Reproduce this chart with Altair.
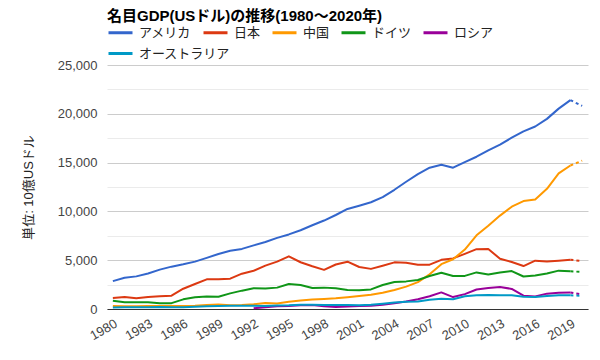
import altair as alt
import pandas as pd

years = list(range(1980, 2021))
countries = ["アメリカ", "日本", "中国", "ドイツ", "ロシア", "オーストラリア"]
colors = ["#3366cc", "#dc3912", "#ff9900", "#109618", "#990099", "#0099c6"]

usa = [2857, 3207, 3343, 3634, 4037, 4339, 4580, 4855, 5236, 5642, 5963, 6158, 6520, 6859,
       7287, 7640, 8073, 8578, 9063, 9631, 10252, 10582, 10936, 11458, 12214, 13037, 13815,
       14475, 14770, 14478, 15049, 15600, 16254, 16843, 17551, 18206, 18695, 19480, 20530,
       21400, 20810]
japan = [1130, 1230, 1100, 1230, 1300, 1370, 2080, 2560, 3040, 3040, 3110, 3620, 3920, 4440,
         4850, 5400, 4790, 4380, 4010, 4560, 4850, 4300, 4110, 4440, 4780, 4750, 4540, 4540,
         5040, 5180, 5650, 6130, 6150, 5150, 4810, 4400, 4950, 4870, 4950, 5050, 4910]
china = [300, 290, 285, 305, 315, 310, 300, 325, 405, 455, 395, 415, 495, 620, 565, 735, 865,
         965, 1030, 1095, 1210, 1340, 1470, 1660, 1955, 2290, 2750, 3550, 4590, 5100, 6090,
         7550, 8530, 9570, 10480, 11060, 11230, 12310, 13890, 14700, 15200]
germany = [850, 700, 690, 690, 600, 600, 990, 1200, 1270, 1250, 1600, 1880, 2120, 2090, 2190,
           2560, 2460, 2160, 2190, 2120, 1950, 1920, 2010, 2460, 2770, 2830, 2970, 3380, 3720,
           3390, 3390, 3750, 3540, 3750, 3890, 3330, 3440, 3640, 3930, 3860, 3800]
russia = [None] * 12 + [85, 184, 277, 313, 392, 405, 271, 196, 260, 307, 345, 430, 591, 764,
                        990, 1300, 1700, 1223, 1525, 2000, 2150, 2250, 2059, 1363, 1277, 1574,
                        1657, 1700, 1470]
australia = [165, 190, 185, 180, 196, 172, 183, 222, 287, 311, 323, 326, 325, 311, 366, 377,
             425, 432, 398, 415, 400, 379, 424, 541, 656, 731, 778, 947, 1055, 1001, 1300,
             1420, 1440, 1420, 1400, 1250, 1230, 1330, 1420, 1400, 1360]

x_ticks = list(range(1980, 2020, 3))
y_ticks = list(range(0, 25001, 2500))

series = [usa, japan, china, germany, russia, australia]
rows = []
for name, vals in zip(countries, series):
    for y, v in zip(years, vals):
        if v is not None:
            rows.append({"year": y, "gdp": v, "country": name})
df = pd.DataFrame(rows)
solid_df = df[df["year"] <= 2019]
dot_df = df[df["year"] >= 2019]

FONT = "Liberation Sans, Noto Sans CJK JP, sans-serif"

x_enc = alt.X(
    "year:Q",
    scale=alt.Scale(domain=[1979.5, 2020.5], nice=False, zero=False),
    axis=alt.Axis(
        values=x_ticks, format="d", labelAngle=-30, labelAlign="right",
        labelBaseline="top", ticks=False, grid=False, domainColor="#333333",
        domainWidth=1, labelPadding=8, labelFontSize=13, labelColor="#444444",
        labelFlush=False, labelOverlap=False, title=None,
    ),
)
y_enc = alt.Y(
    "gdp:Q",
    scale=alt.Scale(domain=[0, 25000], nice=False),
    axis=alt.Axis(
        values=y_ticks, format=",d",
        labelExpr="datum.value % 5000 === 0 ? datum.label : ''",
        gridColor={"condition": {"test": "datum.value % 5000 === 0", "value": "#cccccc"},
                   "value": "#ebebeb"},
        domain=False, ticks=False, labelPadding=10, labelFontSize=13,
        labelColor="#444444", title="単位: 10億USドル", titleX=-79, titleY=122,
        titleAngle=-90, titleAlign="center", titleBaseline="middle",
        titleFontSize=13, titleFontWeight="normal", titleColor="#222222",
    ),
)
color_scale = alt.Scale(domain=countries, range=colors)


def make_legend(values, legend_y):
    return alt.Legend(
        orient="none", legendX=0, legendY=legend_y, direction="horizontal",
        values=values, symbolType="stroke", symbolSize=576, symbolStrokeWidth=3,
        labelFontSize=13, labelColor="#222222", columnPadding=5,
        labelOffset=5, title=None, labelFont=FONT,
    )


solid = alt.Chart(solid_df).mark_line(strokeWidth=2, strokeJoin="round").encode(
    x=x_enc, y=y_enc,
    color=alt.Color("country:N", scale=color_scale, sort=countries,
                    legend=make_legend(countries[:5], -46)),
)
dotted = alt.Chart(dot_df).mark_line(strokeWidth=2, strokeDash=[3, 3]).encode(
    x=x_enc, y=y_enc,
    color=alt.Color("country:N", scale=color_scale, sort=countries,
                    legend=make_legend(countries[5:], -25)),
)

chart = alt.layer(solid, dotted).resolve_scale(color="independent").properties(
    width=481, height=244,
    autosize=alt.AutoSizeParams(type="none"),
    padding={"left": 99, "top": 57, "right": 4, "bottom": 43},
    title=alt.TitleParams(
        "名目GDP(USドル)の推移(1980〜2020年)", anchor="start", frame="group",
        fontSize=15, fontWeight="bold", color="#000000", font=FONT, offset=0, dy=5,
    ),
).configure(font=FONT, background="white").configure_view(stroke=None)

chart.save("out.html", embed_options={"renderer": "svg", "actions": False})
